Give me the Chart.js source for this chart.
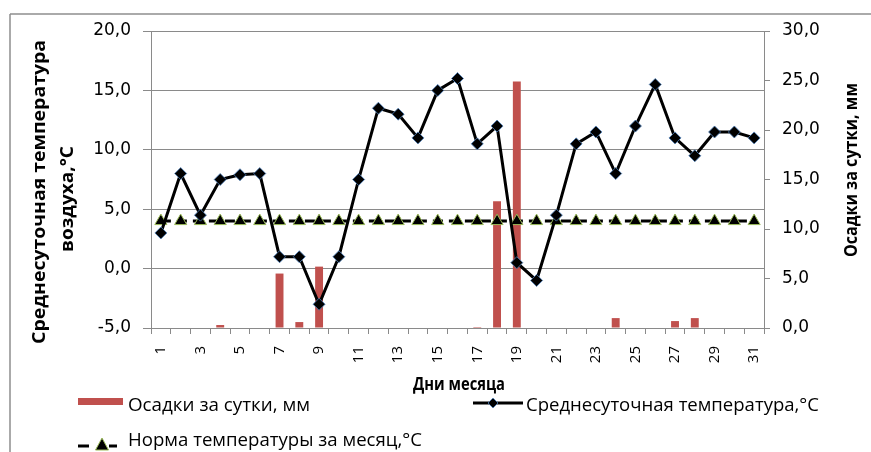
<!DOCTYPE html>
<html>
<head>
<meta charset="utf-8">
<script src="https://cdn.jsdelivr.net/npm/chart.js@4"></script>
<style>
    html, body { margin: 0; padding: 0; background: #fff; }
    #wrap { position: relative; width: 871px; height: 452px; overflow: hidden; }
    #chart { position: absolute; left: 0; top: 0; }
    #overlay { position: absolute; left: 0; top: 0; pointer-events: none; }
    #overlay text { font-family: 'Open Sans', sans-serif; fill: #000; }
    .title { font-weight: bold; font-size: 18px; }
    .leg { font-size: 18px; }
</style>
</head>
<body>
<div id="wrap">
    <canvas id="chart" width="871" height="452"></canvas>
    <svg id="overlay" width="871" height="452" xmlns="http://www.w3.org/2000/svg">
        <!-- outer frame -->
        <line x1="10" y1="14" x2="871" y2="14" stroke="#8e8e8e" stroke-width="1.5"/>
        <line x1="10" y1="14" x2="10" y2="452" stroke="#8e8e8e" stroke-width="1.5"/>

        <!-- axis titles -->
        <text class="title" text-anchor="middle" transform="translate(45,192) rotate(-90)" textLength="304" lengthAdjust="spacingAndGlyphs">Среднесуточная температура</text>
        <text class="title" text-anchor="middle" transform="translate(73,199) rotate(-90)" textLength="106" lengthAdjust="spacingAndGlyphs">воздуха,°С</text>
        <text class="title" text-anchor="middle" transform="translate(857,170) rotate(-90)" textLength="174" lengthAdjust="spacingAndGlyphs">Осадки за сутки, мм</text>
        <text class="title" text-anchor="middle" x="459" y="390" textLength="92" lengthAdjust="spacingAndGlyphs">Дни месяца</text>

        <!-- legend -->
        <rect x="78" y="398" width="45" height="7" fill="#c0504d"/>
        <text class="leg" x="128" y="411" textLength="182" lengthAdjust="spacingAndGlyphs">Осадки за сутки, мм</text>

        <line x1="473" y1="403" x2="523" y2="403" stroke="#000" stroke-width="3"/>
        <polygon points="493,398 498,403 493,408 488,403" fill="#000" stroke="#4f81bd" stroke-width="0.8"/>
        <text class="leg" x="526" y="411" textLength="293" lengthAdjust="spacingAndGlyphs">Среднесуточная температура,°С</text>

        <line x1="78" y1="446" x2="89" y2="446" stroke="#000" stroke-width="3"/>
        <line x1="109" y1="446" x2="117" y2="446" stroke="#000" stroke-width="3"/>
        <polygon points="102,438 108.5,450 95.5,450" fill="#000" stroke="#9bbb59" stroke-width="1"/>
        <text class="leg" x="128" y="446" textLength="294" lengthAdjust="spacingAndGlyphs">Норма температуры за месяц,°С</text>
    </svg>
</div>

<script>
// Data
const days = ['1','2','3','4','5','6','7','8','9','10','11','12','13','14','15','16',
              '17','18','19','20','21','22','23','24','25','26','27','28','29','30','31'];

const precipitation = [0, 0, 0, 0.3, 0, 0, 5.5, 0.6, 6.2, 0, 0, 0, 0, 0, 0, 0,
                       0.1, 12.8, 24.9, 0, 0, 0, 0, 1.0, 0, 0, 0.7, 1.0, 0, 0, 0];

const temperature = [3.0, 8.0, 4.5, 7.5, 7.9, 8.0, 1.0, 1.0, -3.0, 1.0, 7.5, 13.5, 13.0, 11.0, 15.0, 16.0,
                     10.5, 12.0, 0.5, -1.0, 4.5, 10.5, 11.5, 8.0, 12.0, 15.5, 11.0, 9.5, 11.5, 11.5, 11.0];

const normTemperature = [4.0, 4.0, 4.0, 4.0, 4.0, 4.0, 4.0, 4.0, 4.0, 4.0, 4.0, 4.0, 4.0, 4.0, 4.0, 4.0,
                         4.0, 4.0, 4.0, 4.0, 4.0, 4.0, 4.0, 4.0, 4.0, 4.0, 4.0, 4.0, 4.0, 4.0, 4.0];

const gridColor = '#8a8a8a';
const fmt = v => Number(v).toFixed(1).replace('.', ',');

const ctx = document.getElementById('chart').getContext('2d');
new Chart(ctx, {
    type: 'bar',
    data: {
        labels: days,
        datasets: [
            {
                type: 'line',
                label: 'Среднесуточная температура,°С',
                data: temperature,
                yAxisID: 'y',
                borderColor: '#000',
                borderWidth: 3,
                tension: 0,
                pointStyle: 'rectRot',
                pointRadius: 6,
                pointBackgroundColor: '#000',
                pointBorderColor: '#4f81bd',
                pointBorderWidth: 0.8,
                order: 1
            },
            {
                type: 'line',
                label: 'Норма температуры за месяц,°С',
                data: normTemperature,
                yAxisID: 'y',
                borderColor: '#000',
                borderWidth: 3,
                borderDash: [10, 6],
                pointStyle: 'triangle',
                pointRadius: 7,
                pointBackgroundColor: '#000',
                pointBorderColor: '#9bbb59',
                pointBorderWidth: 1,
                order: 2
            },
            {
                label: 'Осадки за сутки, мм',
                data: precipitation,
                yAxisID: 'y2',
                backgroundColor: '#c0504d',
                barPercentage: 0.4,
                categoryPercentage: 1,
                order: 3
            }
        ]
    },
    options: {
        responsive: false,
        animation: false,
        layout: { padding: { top: 31, left: 0, right: 0, bottom: 0 } },
        plugins: {
            legend: { display: false },
            tooltip: { enabled: false }
        },
        scales: {
            x: {
                offset: true,
                grid: { display: true, drawOnChartArea: false, offset: true, color: gridColor, tickLength: 6 },
                border: { display: true, color: gridColor },
                ticks: {
                    autoSkip: false,
                    minRotation: 90,
                    maxRotation: 90,
                    padding: 12,
                    color: '#000',
                    font: { family: "'Open Sans', sans-serif", size: 15 },
                    callback: (v, i) => (i % 2 === 0 ? days[i] : '')
                },
                afterFit: s => { s.height = 124; }
            },
            y: {
                position: 'left',
                min: -5,
                max: 20,
                ticks: {
                    stepSize: 5,
                    padding: 12,
                    color: '#000',
                    font: { family: "'DejaVu Sans', sans-serif", size: 17 },
                    callback: v => fmt(v)
                },
                grid: { color: gridColor, tickLength: 8 },
                border: { display: true, color: gridColor },
                afterFit: s => { s.width = 151; }
            },
            y2: {
                position: 'right',
                min: 0,
                max: 30,
                ticks: {
                    stepSize: 5,
                    padding: 12,
                    color: '#000',
                    font: { family: "'DejaVu Sans', sans-serif", size: 17 },
                    callback: v => fmt(v)
                },
                grid: { drawOnChartArea: false, color: gridColor, tickLength: 6 },
                border: { display: true, color: gridColor },
                afterFit: s => { s.width = 107; }
            }
        }
    }
});
</script>
</body>
</html>
